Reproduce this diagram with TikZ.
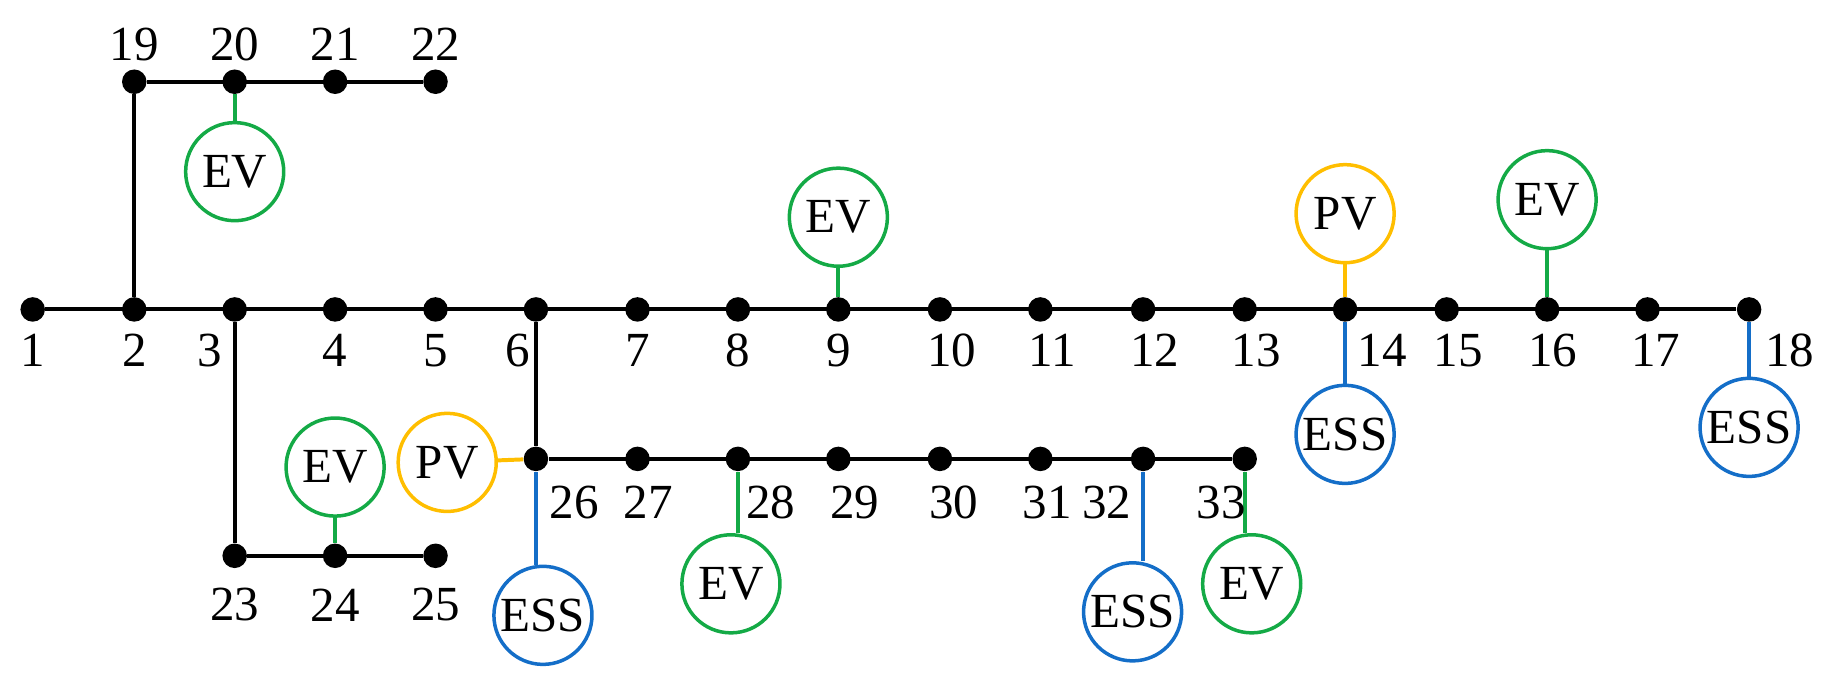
\documentclass[tikz,border=0pt]{standalone}
\usepackage{fontspec}
\setmainfont{Liberation Serif}
\definecolor{evg}{RGB}{20,170,70}
\definecolor{pvo}{RGB}{255,190,0}
\definecolor{essb}{RGB}{20,110,200}
\begin{document}
\begin{tikzpicture}[x=0.5pt,y=-0.5pt,
  bus/.style={circle,fill=black,inner sep=0pt,minimum size=10.5pt},
  dev/.style={circle,draw,line width=1.5pt,minimum size=42pt,inner sep=0pt,font=\fontsize{21}{21}\selectfont},
  lab/.style={font=\fontsize{21}{21}\selectfont},
  line/.style={line width=1.7pt}]
\useasboundingbox (0,0) rectangle (1569,591);
% main buses
\foreach \n/\x in {1/28,2/115,3/201,4/287,5/373,6/459,7/546,8/632,9/718,10/805,11/891,12/979,13/1066,14/1152,15/1239,16/1325,17/1411,18/1498}
  \node[bus] (b\n) at (\x,265) {};
\foreach \n/\x in {19/115,20/201,21/287,22/373} \node[bus] (b\n) at (\x,70) {};
\foreach \n/\x in {23/201,24/287,25/373} \node[bus] (b\n) at (\x,476) {};
\foreach \n/\x in {26/459,27/546,28/632,29/718,30/805,31/891,32/979,33/1066} \node[bus] (b\n) at (\x,393) {};
% lines
\draw[line] (b1) -- (b18);
\draw[line] (b2) -- (b19) -- (b22);
\draw[line] (b3) -- (b23) -- (b25);
\draw[line] (b6) -- (b26) -- (b33);
% devices
\node[dev,evg,text=black] (e20) at (201,147) {EV};
\node[dev,evg,text=black] (e9) at (718,186) {EV};
\node[dev,pvo,text=black] (p14) at (1152,183) {PV};
\node[dev,evg,text=black] (e16) at (1325,171) {EV};
\node[dev,essb,text=black] (s14) at (1152,372) {ESS};
\node[dev,essb,text=black] (s18) at (1498,366) {ESS};
\node[dev,evg,text=black] (e24) at (287,400) {EV};
\node[dev,pvo,text=black] (p26) at (383,396) {PV};
\node[dev,essb,text=black] (s26) at (465,527) {ESS};
\node[dev,evg,text=black] (e28) at (626,500) {EV};
\node[dev,essb,text=black] (s32) at (970,524) {ESS};
\node[dev,evg,text=black] (e33) at (1072,500) {EV};
\draw[line,evg] (b20) -- (e20);
\draw[line,evg] (b9) -- (e9);
\draw[line,pvo] (b14) -- (p14);
\draw[line,evg] (b16) -- (e16);
\draw[line,essb] (b14) -- (s14);
\draw[line,essb] (b18) -- (s18);
\draw[line,evg] (b24) -- (e24);
\draw[line,pvo] (b26) -- (p26);
\draw[line,essb] (b26) -- (b26|-s26.north);
\draw[line,evg] (b28) -- (b28|-e28.north);
\draw[line,essb] (b32) -- (b32|-s32.north);
\draw[line,evg] (b33) -- (b33|-e33.north);
% labels
\foreach \t/\x in {1/28,2/115,3/180,4/287,5/373,6/443,7/546,8/632,9/718,10/815,11/901,12/989,13/1076,14/1184,15/1249,16/1330,17/1418,18/1533}
  \node[lab] (l\t) at (\x,300) {\t};
\foreach \t/\x in {19/115,20/201,21/287,22/373} \node[lab] (l\t) at (\x,38) {\t};
\foreach \t/\x in {23/201,24/287,25/373} \node[lab] (l\t) at (\x,518) {\t};
\foreach \t/\x in {26/492,27/555,28/660,29/732,30/817,31/897,32/948,33/1046} \node[lab] (l\t) at (\x,430) {\t};
\end{tikzpicture}
\end{document}
